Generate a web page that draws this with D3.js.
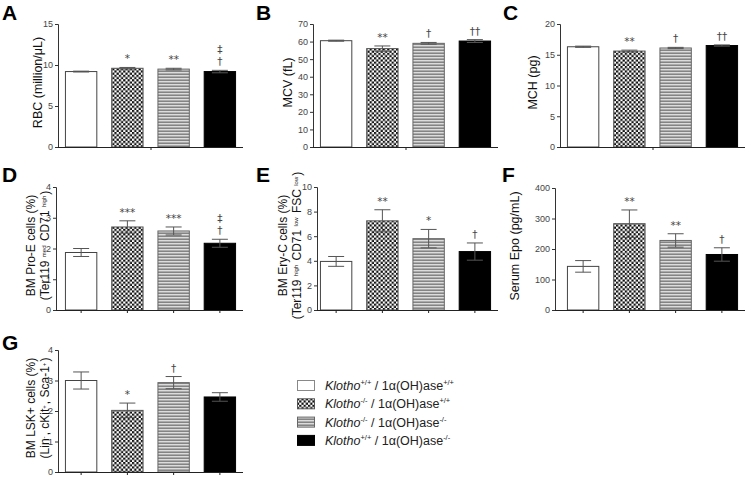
<!DOCTYPE html>
<html><head><meta charset="utf-8">
<script src="https://cdn.jsdelivr.net/npm/d3@7"></script>
<style>
body{margin:0;background:#fff;}
svg{display:block;font-family:Arial,"Liberation Sans",Helvetica,sans-serif;}
.sig{opacity:0.99;}
</style></head>
<body><svg id="c" width="747" height="478"></svg>
<script>
// ---- data ----
const categories = ["Klotho+/+ / 1α(OH)ase+/+","Klotho-/- / 1α(OH)ase+/+","Klotho-/- / 1α(OH)ase-/-","Klotho+/+ / 1α(OH)ase-/-"];
const klothoSup = ["+/+","-/-","-/-","+/+"];
const ohaseSup  = ["+/+","+/+","-/-","-/-"];

const rbc = [9.2, 9.6, 9.5, 9.2];        const rbcErr = [0.05, 0.1, 0.1, 0.15];
const mcv = [60.5, 56.0, 59.0, 60.3];    const mcvErr = [0.3, 1.5, 0.5, 0.8];
const mch = [16.3, 15.6, 16.1, 16.5];    const mchErr = [0.1, 0.15, 0.1, 0.1];
const proE = [1.87, 2.7, 2.57, 2.17];    const proEErr = [0.13, 0.2, 0.13, 0.13];
const eryC = [3.95, 7.25, 5.8, 4.75];    const eryCErr = [0.4, 0.9, 0.75, 0.7];
const epo = [143, 283, 228, 182];        const epoErr = [19, 45, 22, 22];
const lsk = [3.0, 2.02, 2.93, 2.46];     const lskErr = [0.28, 0.24, 0.2, 0.14];

const rbcTicks = [0,5,10,15];
const mcvTicks = [0,10,20,30,40,50,60,70];
const mchTicks = [0,5,10,15,20];
const proETicks = [0,1,2,3,4];
const eryCTicks = [0,2,4,6,8,10];
const epoTicks = [0,100,200,300,400];
const lskTicks = [0,1,2,3,4];

const rbcSig = ["", "*", "**", "‡|†"];
const mcvSig = ["", "**", "†", "††"];
const mchSig = ["", "**", "†", "††"];
const proESig = ["", "***", "***", "‡|†"];
const eryCSig = ["", "**", "*", "†"];
const epoSig = ["", "**", "**", "†"];
const lskSig = ["", "*", "†", ""];

// ---- drawing ----
const svg = d3.select("#c");
const defs = svg.append("defs");
const chk = defs.append("pattern").attr("id","checker").attr("patternUnits","userSpaceOnUse")
  .attr("width",4.4).attr("height",4.4);
chk.append("rect").attr("width",4.4).attr("height",4.4).attr("fill","#fff");
chk.append("rect").attr("width",2.2).attr("height",2.2).attr("fill","#111");
chk.append("rect").attr("x",2.2).attr("y",2.2).attr("width",2.2).attr("height",2.2).attr("fill","#111");
const str = defs.append("pattern").attr("id","stripes").attr("patternUnits","userSpaceOnUse")
  .attr("width",6).attr("height",3);
str.append("rect").attr("width",6).attr("height",3).attr("fill","#dcdcdc");
str.append("rect").attr("y",1.5).attr("width",6).attr("height",1.4).attr("fill","#7a7a7a");

const fills = ["#fff","url(#checker)","url(#stripes)","#000"];
const strokes = ["#444","#555","#666","#000"];
const symFont = "'DejaVu Sans', 'Liberation Sans', sans-serif";

function addLabel(t, parts, supSize){
  parts.forEach(pt=>{
    if(typeof pt === "string"){ t.append("tspan").text(pt); }
    else {
      t.append("tspan").attr("font-size",supSize).attr("dy",-3.5).text(pt.sup);
      t.append("tspan").attr("dy",3.5).text("\u200A");
    }
  });
}

function drawPanel(p){
  const g = svg.append("g");
  const y = d3.scaleLinear().domain([0, p.ticks[p.ticks.length-1]]).range([p.yBot, p.yTop]);
  const x = d3.scaleBand().domain(categories).range(p.band).paddingInner(0.3).paddingOuter(0.15);
  // letter
  g.append("text").attr("x",p.lx).attr("y",p.ly).attr("font-size",21).attr("font-weight","bold")
    .attr("fill","#000").text(p.letter);
  // y axis
  const ya = g.append("g").attr("transform",`translate(${p.axisX},0)`)
    .call(d3.axisLeft(y).tickValues(p.ticks).tickSize(3).tickPadding(2).tickFormat(d3.format("d")));
  ya.select(".domain").attr("stroke","#333");
  ya.selectAll(".tick line").attr("stroke","#333");
  ya.selectAll(".tick text").attr("font-size",9).attr("fill","#444").attr("font-family","Arial,'Liberation Sans',sans-serif");
  // bars
  g.selectAll("rect.bar").data(p.values).enter().append("rect").attr("class","bar")
    .attr("x",(d,i)=>x(categories[i])+0.5).attr("width",x.bandwidth()-1)
    .attr("y",d=>y(d)).attr("height",d=>p.yBot - y(d))
    .attr("fill",(d,i)=>fills[i]).attr("stroke",(d,i)=>strokes[i]).attr("stroke-width",1);
  // error bars
  const cw = 8;
  p.values.forEach((v,i)=>{
    const cx = x(categories[i]) + x.bandwidth()/2;
    const e = p.errs[i];
    const col = "#555";
    g.append("line").attr("x1",cx).attr("x2",cx).attr("y1",y(v-e)).attr("y2",y(v+e)).attr("stroke",col);
    g.append("line").attr("x1",cx-cw).attr("x2",cx+cw).attr("y1",y(v+e)).attr("y2",y(v+e)).attr("stroke",col);
    g.append("line").attr("x1",cx-cw).attr("x2",cx+cw).attr("y1",y(v-e)).attr("y2",y(v-e)).attr("stroke",col);
    const s = p.sig[i];
    if(s){
      const lines = s.split("|").reverse();
      lines.forEach((t,k)=>{
        g.append("text").attr("class","sig").attr("x",cx).attr("y",y(v+e)-5-k*12).attr("text-anchor","middle")
          .attr("font-family",symFont).attr("font-size",10.5).attr("fill","#444").text(t);
      });
    }
  });
  // x axis
  g.append("line").attr("x1",p.axisX).attr("x2",p.band[1]).attr("y1",p.yBot+0.5).attr("y2",p.yBot+0.5)
    .attr("stroke","#222");
  const xt = p.centerTick ? [(p.axisX + p.band[1])/2 + 0.5] : categories.map(c=>x(c)+x.bandwidth()/2);
  xt.forEach(tx=>{
    g.append("line").attr("x1",tx).attr("x2",tx).attr("y1",p.yBot).attr("y2",p.yBot+3).attr("stroke","#222");
  });
  // y label
  const cy = (p.yTop + p.yBot)/2 - 3;
  p.label.forEach((parts,li)=>{
    const t = g.append("text").attr("transform",`translate(${p.labX[li]},${cy}) rotate(-90)`)
      .attr("text-anchor","middle").attr("dy","0.35em").attr("font-size",p.label.length>1?12:12.5).attr("fill","#111");
    addLabel(t, parts, 6);
  });
}

const col1 = [58,243], col2 = [313,498], col3 = [560,745];
drawPanel({letter:"A", lx:2, ly:20, axisX:58, band:col1, yTop:24, yBot:147, ticks:rbcTicks, values:rbc, errs:rbcErr, sig:rbcSig, centerTick:true,
  label:[["RBC (million/μL)"]], labX:[38]});
drawPanel({letter:"B", lx:256, ly:20, axisX:313, band:col2, yTop:24, yBot:147, ticks:mcvTicks, values:mcv, errs:mcvErr, sig:mcvSig, centerTick:true,
  label:[["MCV (fL)"]], labX:[288]});
drawPanel({letter:"C", lx:503, ly:20, axisX:560, band:col3, yTop:24, yBot:147, ticks:mchTicks, values:mch, errs:mchErr, sig:mchSig, centerTick:true,
  label:[["MCH (pg)"]], labX:[533]});
drawPanel({letter:"D", lx:2, ly:182, axisX:56, band:col1, yTop:187, yBot:310, ticks:proETicks, values:proE, errs:proEErr, sig:proESig, centerTick:false,
  label:[["BM Pro-E cells (%)"],["(Ter119 ",{sup:"med"}," CD71 ",{sup:"high"},")"]], labX:[31,45]});
drawPanel({letter:"E", lx:256, ly:182, axisX:317, band:col2, yTop:187, yBot:310, ticks:eryCTicks, values:eryC, errs:eryCErr, sig:eryCSig, centerTick:false,
  label:[["BM  Ery-C cells (%)"],["(Ter119 ",{sup:"high"}," CD71 ",{sup:"low"}," FSC ",{sup:"low"},")"]], labX:[283,297]});
drawPanel({letter:"F", lx:502, ly:182, axisX:555, band:col3, yTop:188, yBot:310, ticks:epoTicks, values:epo, errs:epoErr, sig:epoSig, centerTick:false,
  label:[["Serum Epo (pg/mL)"]], labX:[515]});
drawPanel({letter:"G", lx:2, ly:350, axisX:58, band:col1, yTop:350, yBot:472, ticks:lskTicks, values:lsk, errs:lskErr, sig:lskSig, centerTick:false,
  label:[["BM LSK+ cells (%)"],["(Lin",{sup:"-"},", cKit",{sup:"+"},", Sca-1",{sup:"+"},")"]], labX:[31,45]});

// legend
const leg = svg.append("g");
categories.forEach((c,i)=>{
  const yy = 380 + i*18.3;
  leg.append("rect").attr("x",297.5).attr("y",yy+0.5).attr("width",17).attr("height",10)
    .attr("fill",fills[i]).attr("stroke",i===0?"#888":strokes[i]);
  const t = leg.append("text").attr("x",325).attr("y",yy+10).attr("font-size",12.5).attr("fill","#222");
  t.append("tspan").attr("font-style","italic").text("Klotho");
  t.append("tspan").attr("font-size",7.5).attr("dy",-5).text(klothoSup[i]);
  t.append("tspan").attr("dy",5).text(" / 1α(OH)ase");
  t.append("tspan").attr("font-size",7.5).attr("dy",-5).text(ohaseSup[i]);
});
</script></body></html>
